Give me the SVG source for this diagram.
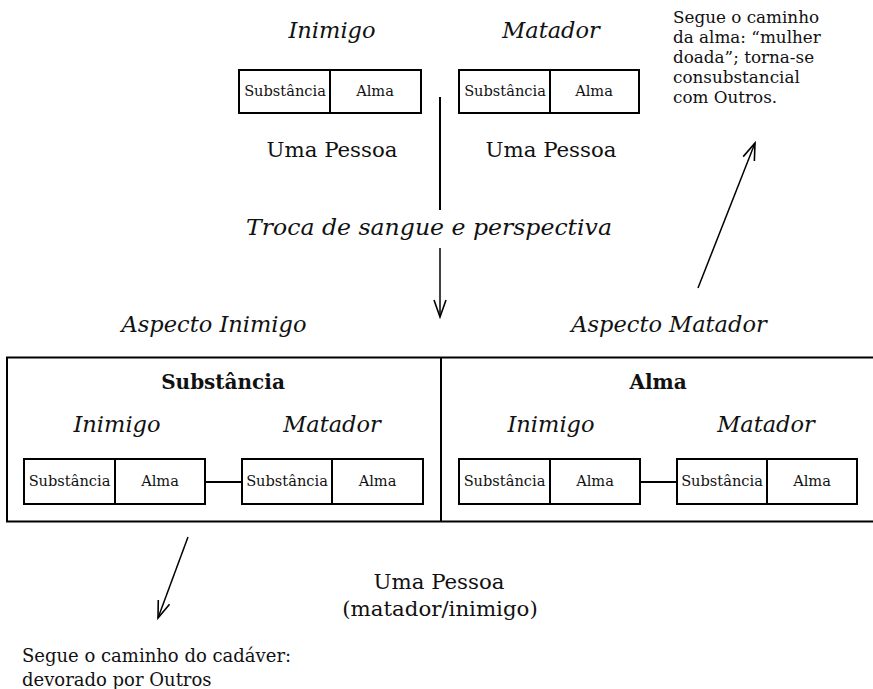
<svg xmlns="http://www.w3.org/2000/svg" width="873" height="689" viewBox="0 0 873 689">
<defs>
<style>
text{font-family:"DejaVu Serif","Liberation Serif",serif;fill:#111}
.it{font-style:italic;font-size:22.5px}
.big{font-size:21.3px}
.bold{font-weight:bold;font-size:20px}
.sm{font-size:14.6px}
.note{font-size:16.8px}
.note2{font-size:18px}
.box{fill:#fff;stroke:#000;stroke-width:2}
.ln{stroke:#000;stroke-width:2;fill:none}
.arr{stroke:#000;stroke-width:1.5;fill:none}
</style>
<marker id="v" viewBox="-18 -8 20 16" refX="0" refY="0" markerWidth="20" markerHeight="16" markerUnits="userSpaceOnUse" orient="auto">
<path d="M-17,-6 L0,0 L-17,6" fill="none" stroke="#000" stroke-width="1.6"/>
</marker>
</defs>

<g id="top-inimigo">
<text class="it" x="332" y="38" text-anchor="middle">Inimigo</text>
<rect class="box" x="239" y="70" width="182" height="43"/>
<line class="ln" x1="330" y1="70" x2="330" y2="113"/>
<text class="sm" x="285" y="96" text-anchor="middle">Substância</text>
<text class="sm" x="375" y="96" text-anchor="middle">Alma</text>
<text class="big" x="332" y="157" text-anchor="middle">Uma Pessoa</text>
</g>

<g id="top-matador">
<text class="it" x="551" y="38" text-anchor="middle">Matador</text>
<rect class="box" x="459" y="70" width="180" height="43"/>
<line class="ln" x1="550" y1="70" x2="550" y2="113"/>
<text class="sm" x="505" y="96" text-anchor="middle">Substância</text>
<text class="sm" x="594" y="96" text-anchor="middle">Alma</text>
<text class="big" x="551" y="157" text-anchor="middle">Uma Pessoa</text>
</g>

<g id="note-alma">
<text class="note" x="673" y="23">Segue o caminho</text>
<text class="note" x="673" y="43">da alma: “mulher</text>
<text class="note" x="673" y="63">doada”; torna-se</text>
<text class="note" x="673" y="83">consubstancial</text>
<text class="note" x="673" y="103">com Outros.</text>
</g>

<g id="troca">
<text class="it" x="429" y="235" text-anchor="middle" textLength="366" lengthAdjust="spacingAndGlyphs">Troca de sangue e perspectiva</text>
</g>

<g id="aspect-labels">
<text class="it" x="214" y="332" text-anchor="middle">Aspecto Inimigo</text>
<text class="it" x="669" y="332" text-anchor="middle">Aspecto Matador</text>
</g>

<g id="main-frame">
<path class="ln" d="M875,357.5 L7,357.5 L7,521.5 L875,521.5"/>
<line class="ln" x1="441" y1="357.5" x2="441" y2="521.5"/>
</g>

<g id="aspect-substancia">
<text class="bold" x="223" y="389" text-anchor="middle">Substância</text>
<text class="it" x="117" y="432" text-anchor="middle">Inimigo</text>
<text class="it" x="332" y="432" text-anchor="middle">Matador</text>
<rect class="box" x="24" y="459" width="181" height="45"/>
<line class="ln" x1="115" y1="459" x2="115" y2="504"/>
<text class="sm" x="69.5" y="486" text-anchor="middle">Substância</text>
<text class="sm" x="160" y="486" text-anchor="middle">Alma</text>
<rect class="box" x="242" y="459" width="181" height="45"/>
<line class="ln" x1="332" y1="459" x2="332" y2="504"/>
<text class="sm" x="287" y="486" text-anchor="middle">Substância</text>
<text class="sm" x="377.5" y="486" text-anchor="middle">Alma</text>
</g>

<g id="aspect-alma">
<text class="bold" x="658" y="389" text-anchor="middle">Alma</text>
<text class="it" x="551" y="432" text-anchor="middle">Inimigo</text>
<text class="it" x="766" y="432" text-anchor="middle">Matador</text>
<rect class="box" x="459" y="459" width="181" height="45"/>
<line class="ln" x1="550" y1="459" x2="550" y2="504"/>
<text class="sm" x="504.5" y="486" text-anchor="middle">Substância</text>
<text class="sm" x="595" y="486" text-anchor="middle">Alma</text>
<rect class="box" x="677" y="459" width="180" height="45"/>
<line class="ln" x1="767" y1="459" x2="767" y2="504"/>
<text class="sm" x="722" y="486" text-anchor="middle">Substância</text>
<text class="sm" x="812" y="486" text-anchor="middle">Alma</text>
</g>

<g id="uma-pessoa-bottom">
<text class="big" x="439" y="589" text-anchor="middle">Uma Pessoa</text>
<text class="big" x="440" y="616" text-anchor="middle">(matador/inimigo)</text>
</g>

<g id="note-cadaver">
<text class="note2" x="22" y="662">Segue o caminho do cadáver:</text>
<text class="note2" x="22" y="686">devorado por Outros</text>
</g>

<g id="connectors">
<line class="ln" x1="440" y1="97" x2="440" y2="210"/>
<line class="arr" x1="440" y1="248" x2="440" y2="317" marker-end="url(#v)"/>
<line class="ln" x1="205" y1="482" x2="242" y2="482"/>
<line class="ln" x1="640" y1="482" x2="677" y2="482"/>
<line class="arr" x1="188" y1="537" x2="158" y2="618" marker-end="url(#v)"/>
<line class="arr" x1="698" y1="288" x2="755" y2="143" marker-end="url(#v)"/>
</g>
</svg>
